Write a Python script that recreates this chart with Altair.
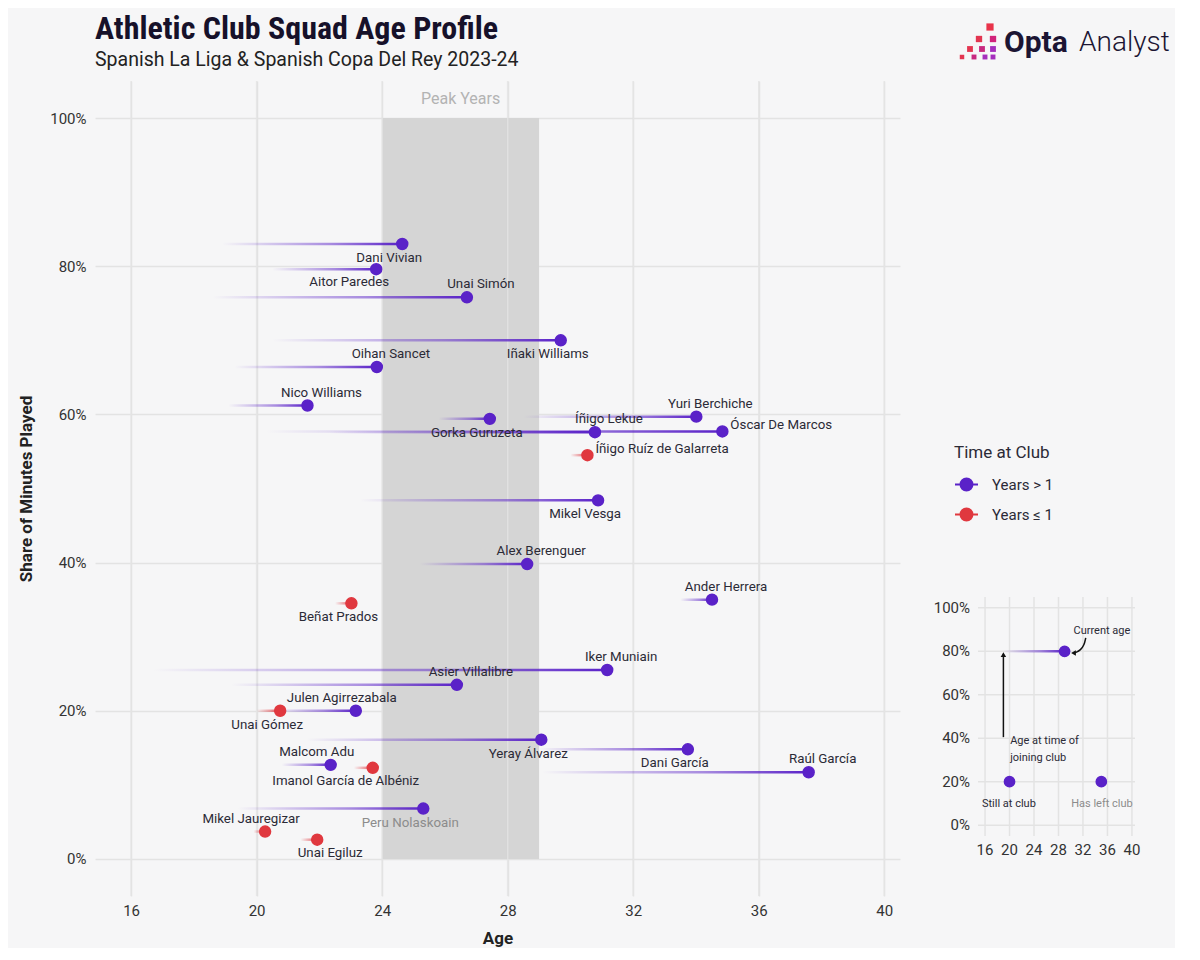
import altair as alt
import pandas as pd

# ---------------- data ----------------
names = ["Dani Vivian", "Aitor Paredes", "Unai Simón", "Iñaki Williams", "Oihan Sancet",
         "Nico Williams", "Gorka Guruzeta", "Yuri Berchiche", "Íñigo Lekue", "Óscar De Marcos",
         "Íñigo Ruíz de Galarreta", "Mikel Vesga", "Alex Berenguer", "Ander Herrera", "Beñat Prados",
         "Iker Muniain", "Asier Villalibre", "Julen Agirrezabala", "Unai Gómez", "Yeray Álvarez",
         "Dani García", "Raúl García", "Malcom Adu", "Imanol García de Albéniz", "Peru Nolaskoain",
         "Mikel Jauregizar", "Unai Egiluz"]
current_age = [24.64, 23.81, 26.70, 29.69, 23.83, 21.62, 27.43, 34.01, 30.78, 34.84,
               30.54, 30.88, 28.62, 34.51, 23.02, 31.17, 26.38, 23.16, 20.75, 29.07,
               33.74, 37.59, 22.36, 23.70, 25.31, 20.27, 21.93]
join_age = [18.9, 20.5, 18.6, 20.5, 19.3, 19.1, 25.8, 28.5, 22.3, 20.3,
            30.0, 23.3, 25.2, 33.5, 22.5, 16.7, 19.2, 20.6, 20.0, 21.6,
            29.0, 29.1, 20.8, 23.1, 19.4, 19.9, 21.4]
minutes_share = [0.830, 0.796, 0.758, 0.700, 0.664, 0.612, 0.594, 0.597, 0.576, 0.577,
                 0.545, 0.484, 0.398, 0.350, 0.345, 0.255, 0.235, 0.200, 0.200, 0.161,
                 0.148, 0.117, 0.127, 0.123, 0.068, 0.037, 0.026]
GT, LE = "Years > 1", "Years ≤ 1"
time_at_club = [GT, GT, GT, GT, GT, GT, GT, GT, GT, GT,
                LE, GT, GT, GT, LE, GT, GT, GT, LE, GT,
                GT, GT, GT, LE, GT, LE, LE]
status = ["still"] * 24 + ["left"] + ["still"] * 2
label_side = ["below", "below_ll", "above", "below", "above", "above", "below", "above", "above", "right",
              "right", "below", "above", "above", "below", "above", "above", "above_l", "below", "below",
              "below", "above", "above_l", "below_ll", "below", "above_l", "below_r"]

peak_start, peak_end = [24], [29]
x_ticks = [16, 20, 24, 28, 32, 36, 40]
y_ticks = [0.0, 0.2, 0.4, 0.6, 0.8, 1.0]
X_DOMAIN = [14.85, 40.5]
Y_DOMAIN = [-0.05, 1.05]

TITLE = "Athletic Club Squad Age Profile"
SUBTITLE = "Spanish La Liga & Spanish Copa Del Rey 2023-24"

# inset (explainer) data
inset_line_join, inset_line_age, inset_line_share = [19], [29], [0.8]
inset_dot_age = [29, 20, 35]
inset_dot_share = [0.8, 0.2, 0.2]
inset_text = ["Current age", "Age at time of", "joining club", "Still at club", "Has left club"]
inset_text_x = [35.1, 20.1, 20.1, 19.9, 35.1]
inset_text_y = [0.895, 0.387, 0.309, 0.098, 0.098]
inset_text_align = ["center", "left", "left", "center", "center"]
inset_text_state = ["still", "still", "still", "still", "left"]
arrow_x = [32.45, 32.2, 31.6, 30.9, 30.45]
arrow_y = [0.862, 0.828, 0.806, 0.795, 0.792]

PURPLE = "#5a22c8"
RED = "#e0383f"
TXT = "#2b2a36"
BG = "#f6f6f7"
GRID = "#e3e3e3"
FONT = "Roboto"
TFONT = "Liberation Sans Narrow, Roboto Condensed, DejaVu Sans Condensed, sans-serif"

df = pd.DataFrame({"name": names, "age": current_age, "join": join_age, "share": minutes_share,
                   "club": time_at_club, "status": status, "side": label_side})
peak = pd.DataFrame({"start": peak_start, "end": peak_end, "lo": [0.0], "hi": [1.0],
                     "label": ["Peak Years"]})
one = pd.DataFrame({"title": [TITLE], "subtitle": [SUBTITLE]})
vgrid = pd.DataFrame({"x": x_ticks, "y0": Y_DOMAIN[0], "y1": Y_DOMAIN[1]})
hgrid = pd.DataFrame({"y": y_ticks, "x0": X_DOMAIN[0], "x1": X_DOMAIN[1]})

xs = alt.Scale(domain=X_DOMAIN, nice=False, zero=False, padding=0)
ys = alt.Scale(domain=Y_DOMAIN, nice=False, zero=False, padding=0)
xaxis = alt.Axis(values=x_ticks, grid=True, gridColor=GRID, gridWidth=1.5, domain=False, ticks=False,
                 labelFontSize=15, labelColor="#333", labelFont=FONT, labelPadding=7,
                 title="Age", titleFontSize=17, titleFont=FONT, titleFontWeight="bold",
                 titleColor="#222", titlePadding=12)
yaxis = alt.Axis(values=y_ticks, format=".0%", grid=True, gridColor=GRID, gridWidth=1.5, domain=False,
                 ticks=False, labelFontSize=15, labelColor="#333", labelFont=FONT, labelPadding=9,
                 title="Share of Minutes Played", titleFontSize=17, titleFont=FONT,
                 titleFontWeight="bold", titleColor="#222", titlePadding=14)


def X(f, **kw):
    return alt.X(f, scale=xs, axis=xaxis, **kw)


def Y(f, **kw):
    return alt.Y(f, scale=ys, axis=yaxis, **kw)


def grad(hexcol):
    r, g, b = int(hexcol[1:3], 16), int(hexcol[3:5], 16), int(hexcol[5:7], 16)
    return alt.LinearGradient(gradient="linear",
                              stops=[alt.GradientStop(color=f"rgba({r},{g},{b},0)", offset=0),
                                     alt.GradientStop(color=f"rgba({r},{g},{b},0.5)", offset=0.6),
                                     alt.GradientStop(color=f"rgba({r},{g},{b},1)", offset=1)],
                              x1=0, x2=1, y1=0, y2=0)


band = alt.Chart(peak).mark_rect(color="#d5d5d5").encode(x=X("start:Q"), x2="end:Q", y=Y("lo:Q"), y2="hi:Q")
band_grid = alt.Chart(vgrid).mark_rule(color=GRID, strokeWidth=1.5, opacity=0.8).encode(
    x=X("x:Q"), y=Y("y0:Q"), y2="y1:Q")
band_label = alt.Chart(peak).transform_calculate(mid="(datum.start + datum.end) / 2").mark_text(
    font=FONT, fontSize=16, color="#b3b3b3", baseline="middle").encode(
    x=X("mid:Q"), y=alt.value(18), text="label:N")

base = alt.Chart(df)
lines_p = base.transform_filter(alt.datum.club == GT).mark_bar(size=2.5, color=grad(PURPLE)).encode(
    x=X("join:Q"), x2="age:Q", y=Y("share:Q"))
lines_r = base.transform_filter(alt.datum.club == LE).mark_bar(size=2.5, color=grad(RED)).encode(
    x=X("join:Q"), x2="age:Q", y=Y("share:Q"))

club_scale = alt.Scale(domain=[GT, LE], range=[PURPLE, RED])
SYM = "M-1,0L1,0M0.52,0A0.52,0.52,0,1,1,-0.52,0A0.52,0.52,0,1,1,0.52,0Z"
leg = alt.Legend(title="Time at Club", orient="none", legendX=859, legendY=364,
                 symbolType=SYM, symbolSize=529, symbolStrokeWidth=2, symbolOpacity=1,
                 labelFont=FONT, labelFontSize=15, labelColor=TXT, labelOffset=13,
                 titleFont=FONT, titleFontSize=17, titleFontWeight="normal", titleColor=TXT,
                 titlePadding=10, rowPadding=7)
dots = base.mark_point(shape="circle", size=120, strokeWidth=1.5, opacity=1).encode(
    x=X("age:Q"), y=Y("share:Q"),
    fill=alt.Fill("club:N", scale=club_scale, legend=leg),
    stroke=alt.Stroke("club:N", scale=club_scale, legend=leg))

PLACE = {
    "above": dict(dx=14, dy=-13, align="center"),
    "above_l": dict(dx=-14, dy=-13, align="center"),
    "below": dict(dx=-13, dy=14, align="center"),
    "below_r": dict(dx=13, dy=13, align="center"),
    "below_ll": dict(dx=-27, dy=13, align="center"),
    "right": dict(dx=8, dy=-6, align="left"),
}
label_layers = []
for side, p in PLACE.items():
    label_layers.append(
        base.transform_filter(alt.datum.side == side).mark_text(
            font=FONT, fontSize=13.3, baseline="middle", **p).encode(
            x=X("age:Q"), y=Y("share:Q"), text="name:N",
            color=alt.condition(alt.datum.status == "left", alt.value("#8c8c8c"), alt.value(TXT))))

# title & subtitle (drawn as text so the logo does not push them)
title_mark = alt.Chart(one).mark_text(font=TFONT, fontSize=32, fontWeight="bold", color="#16112a",
                                      align="left", baseline="alphabetic").encode(
    x=alt.value(0), y=alt.value(-42), text="title:N")
subtitle_mark = alt.Chart(one).mark_text(font=FONT, fontSize=19.5, fontWeight="normal", color="#222",
                                         align="left", baseline="alphabetic").encode(
    x=alt.value(0), y=alt.value(-15), text="subtitle:N")

# logo (decoration)
logo_sq = pd.DataFrame({
    "px": [895, 884, 898, 875, 887, 898, 867, 879, 890, 898],
    "py": [-54, -42, -42, -32, -32, -32, -24, -24, -24, -24],
    "sz": [52, 40, 40, 34, 34, 34, 20, 24, 24, 24],
    "col": ["#e8334a", "#e33550", "#d1237a", "#e33550", "#c8287f", "#a52ebd",
            "#e33550", "#c8287f", "#a52ebd", "#a52ebd"]})
logo_marks = alt.Chart(logo_sq).mark_square(opacity=1).encode(
    x=alt.X("px:Q", scale=None), y=alt.Y("py:Q", scale=None),
    size=alt.Size("sz:Q", scale=None), color=alt.Color("col:N", scale=None))
logo_opta = alt.Chart(one).mark_text(text="Opta", font=FONT, fontSize=30, fontWeight="bold",
                                     color="#1c1533", align="left", baseline="middle").encode(
    x=alt.value(909), y=alt.value(-38))
logo_analyst = alt.Chart(one).mark_text(text="Analyst", font=FONT, fontSize=28, fontWeight=300,
                                        color="#1c1533", align="left", baseline="middle").encode(
    x=alt.value(984), y=alt.value(-38))

main = alt.layer(band, band_grid, band_label, lines_p, lines_r, dots, *label_layers,
                 title_mark, subtitle_mark, logo_marks, logo_opta, logo_analyst)

# ---------------- inset ----------------
ixs = alt.Scale(domain=X_DOMAIN, range=[883, 1040], nice=False, zero=False, padding=0)
iys = alt.Scale(domain=Y_DOMAIN, range=[755, 516], nice=False, zero=False, padding=0)


def IX(f, **kw):
    return alt.X(f, scale=ixs, axis=None, **kw)


def IY(f, **kw):
    return alt.Y(f, scale=iys, axis=None, **kw)


iv = alt.Chart(vgrid).mark_rule(color=GRID, strokeWidth=1.5).encode(x=IX("x:Q"), y=IY("y0:Q"), y2="y1:Q")
ih = alt.Chart(hgrid).mark_rule(color=GRID, strokeWidth=1.5).encode(y=IY("y:Q"), x=IX("x0:Q"), x2="x1:Q")
ixl = alt.Chart(vgrid).mark_text(font=FONT, fontSize=15, color="#333", baseline="middle", dy=14).encode(
    x=IX("x:Q"), y=IY("y0:Q"), text=alt.Text("x:Q", format="d"))
iyl = alt.Chart(hgrid).mark_text(font=FONT, fontSize=15, color="#333", baseline="middle", align="right",
                                 dx=-8).encode(x=IX("x0:Q"), y=IY("y:Q"), text=alt.Text("y:Q", format=".0%"))

iline_df = pd.DataFrame({"join": inset_line_join, "age": inset_line_age, "share": inset_line_share})
iline = alt.Chart(iline_df).mark_bar(size=2.5, color=grad(PURPLE)).encode(
    x=IX("join:Q"), x2="age:Q", y=IY("share:Q"))
idots = alt.Chart(pd.DataFrame({"age": inset_dot_age, "share": inset_dot_share})).mark_point(
    shape="circle", size=105, strokeWidth=1.5, opacity=1, fill=PURPLE, stroke=PURPLE).encode(
    x=IX("age:Q"), y=IY("share:Q"))
itext_df = pd.DataFrame({"t": inset_text, "x": inset_text_x, "y": inset_text_y,
                         "al": inset_text_align, "st": inset_text_state})
itext_layers = []
for al in ["center", "left"]:
    itext_layers.append(
        alt.Chart(itext_df).transform_filter(alt.datum.al == al).mark_text(
            font=FONT, fontSize=11, baseline="middle", align=al).encode(
            x=IX("x:Q"), y=IY("y:Q"), text="t:N",
            color=alt.condition(alt.datum.st == "left", alt.value("#8c8c8c"), alt.value(TXT))))

vert = pd.DataFrame({"x": [inset_line_join[0]], "y0": [0.405], "y1": [0.785]})
varrow = alt.Chart(vert).mark_rule(color="#111", strokeWidth=1.5).encode(x=IX("x:Q"), y=IY("y0:Q"), y2="y1:Q")
vhead = alt.Chart(vert).mark_point(shape="triangle-up", size=30, filled=True, opacity=1, color="#111").encode(
    x=IX("x:Q"), y=IY("y1:Q"))
curve_df = pd.DataFrame({"x": arrow_x, "y": arrow_y, "i": list(range(len(arrow_x)))})
curve = alt.Chart(curve_df).mark_line(color="#111", strokeWidth=1.5, interpolate="basis").encode(
    x=IX("x:Q"), y=IY("y:Q"), order="i:Q")
chead = alt.Chart(curve_df).transform_filter(alt.datum.i == len(arrow_x) - 1).mark_point(
    shape="triangle-left", size=30, filled=True, opacity=1, color="#111").encode(x=IX("x:Q"), y=IY("y:Q"))

inset = alt.layer(iv, ih, ixl, iyl, iline, varrow, vhead, curve, chead, idots, *itext_layers)

chart = alt.layer(main, inset).resolve_scale(x="independent", y="independent").properties(
    width=805, height=815,
    padding={"left": 9, "top": 5, "right": 5, "bottom": 2},
).configure(background=BG).configure_view(stroke=None)

chart.save("out.html", embed_options={"renderer": "svg", "actions": False})
